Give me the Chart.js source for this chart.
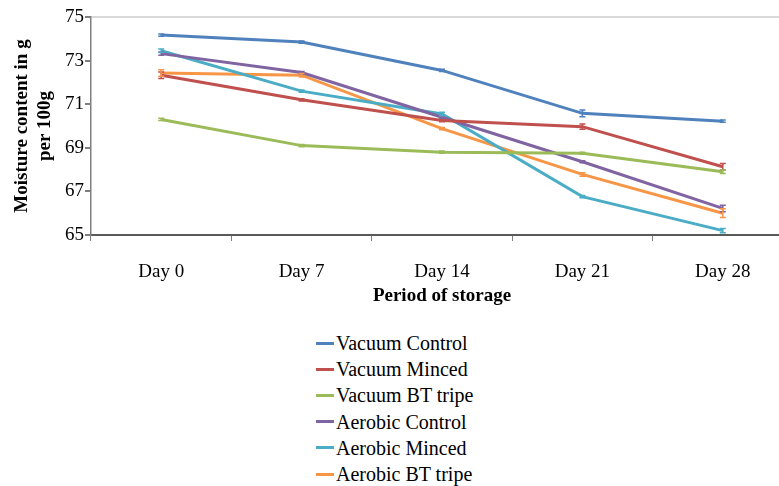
<!DOCTYPE html>
<html>
<head>
<meta charset="utf-8">
<script src="https://cdn.jsdelivr.net/npm/chart.js@4.4.1/dist/chart.umd.min.js"></script>
<style>
  html, body { margin: 0; padding: 0; background: #fff; overflow: hidden; width: 779px; height: 486px; }
  #wrap { position: absolute; left: 0; top: 0; width: 793px; height: 320px; }
  #legend { position: absolute; left: 316px; top: 330px; font-family: "Liberation Serif", "DejaVu Serif", serif; font-size: 20px; color: #000; }
  #legend .item { height: 26.2px; line-height: 26.2px; display: flex; align-items: center; white-space: nowrap; }
  #legend .sw { width: 18px; height: 3px; margin-right: 2px; }
</style>
</head>
<body>
<div id="wrap"><canvas id="chart" width="793" height="320"></canvas></div>
<div id="legend"></div>
<script>
// Storage days
const categories = ["Day 0", "Day 7", "Day 14", "Day 21", "Day 28"];

// Moisture content (g per 100 g) by treatment
const vacuumControl   = [74.17, 73.85, 72.55, 70.58, 70.22];
const vacuumMinced    = [72.33, 71.20, 70.25, 69.97, 68.13];
const vacuumBTtripe   = [70.30, 69.10, 68.80, 68.75, 67.90];
const aerobicControl  = [73.32, 72.45, 70.40, 68.36, 66.22];
const aerobicMinced   = [73.45, 71.60, 70.55, 66.76, 65.20];
const aerobicBTtripe  = [72.43, 72.33, 69.88, 67.78, 66.00];

// Standard errors
const vacuumControlErr  = [0.05, 0.05, 0.05, 0.15, 0.05];
const vacuumMincedErr   = [0.15, 0.05, 0.05, 0.12, 0.15];
const vacuumBTtripeErr  = [0.05, 0.05, 0.05, 0.05, 0.08];
const aerobicControlErr = [0.08, 0.05, 0.05, 0.05, 0.15];
const aerobicMincedErr  = [0.08, 0.05, 0.08, 0.05, 0.10];
const aerobicBTtripeErr = [0.15, 0.08, 0.05, 0.08, 0.20];

// Axis range
const yMin = 65, yMax = 75, yStep = 2;

const seriesNames = ["Vacuum Control", "Vacuum Minced", "Vacuum BT tripe", "Aerobic Control", "Aerobic Minced", "Aerobic BT tripe"];
const seriesValues = [vacuumControl, vacuumMinced, vacuumBTtripe, aerobicControl, aerobicMinced, aerobicBTtripe];
const seriesErrors = [vacuumControlErr, vacuumMincedErr, vacuumBTtripeErr, aerobicControlErr, aerobicMincedErr, aerobicBTtripeErr];
const seriesColors = ["#4F81BD", "#C0504D", "#9BBB59", "#8064A2", "#4BACC6", "#F79646"];

const serif = '"Liberation Serif", "DejaVu Serif", serif';

const datasets = seriesNames.map((name, i) => ({
  label: name,
  data: seriesValues[i],
  errors: seriesErrors[i],
  borderColor: seriesColors[i],
  backgroundColor: seriesColors[i],
  borderWidth: 3,
  pointRadius: 0,
  pointHoverRadius: 0,
  tension: 0,
  fill: false
}));

// Small vertical error bars with caps
const errorBars = {
  id: 'errorBars',
  afterDatasetsDraw(chart) {
    const ctx = chart.ctx;
    const y = chart.scales.y;
    chart.data.datasets.forEach((ds, di) => {
      const meta = chart.getDatasetMeta(di);
      ctx.save();
      ctx.strokeStyle = ds.borderColor;
      ctx.lineWidth = 1.5;
      meta.data.forEach((pt, j) => {
        const e = ds.errors[j];
        const v = ds.data[j];
        const y1 = y.getPixelForValue(v - e);
        const y2 = y.getPixelForValue(v + e);
        ctx.beginPath();
        ctx.moveTo(pt.x, y1); ctx.lineTo(pt.x, y2);
        ctx.moveTo(pt.x - 3, y1); ctx.lineTo(pt.x + 3, y1);
        ctx.moveTo(pt.x - 3, y2); ctx.lineTo(pt.x + 3, y2);
        ctx.stroke();
      });
      ctx.restore();
    });
  }
};

const chart = new Chart(document.getElementById('chart'), {
  type: 'line',
  data: { labels: categories, datasets },
  plugins: [errorBars],
  options: {
    responsive: false,
    devicePixelRatio: 1,
    animation: false,
    layout: { padding: { top: 17, right: 0, bottom: 0, left: 0 } },
    plugins: { legend: { display: false }, tooltip: { enabled: false } },
    scales: {
      x: {
        type: 'category',
        offset: true,
        afterFit(scale) { scale.height = 85; },
        grid: { offset: true, drawOnChartArea: false, color: '#7f7f7f', tickLength: 6, tickColor: '#7f7f7f' },
        border: { color: '#595959', width: 2 },
        ticks: { color: '#000', font: { family: serif, size: 19 }, padding: 20, maxRotation: 0 },
        title: { display: true, text: 'Period of storage', color: '#000', font: { family: serif, size: 19, weight: 'bold' }, padding: { top: 0, bottom: 13 } }
      },
      y: {
        min: yMin, max: yMax,
        afterFit(scale) { scale.width = 91; },
        grid: {
          color: (c) => (c.tick && c.tick.value === yMax ? '#d9d9d9' : 'rgba(0,0,0,0)'),
          lineWidth: 2,
          tickLength: 6,
          tickColor: '#7f7f7f'
        },
        border: { color: '#7f7f7f', width: 1.5 },
        ticks: { stepSize: yStep, color: '#000', font: { family: serif, size: 19 }, padding: 1 },
        title: { display: true, text: ['Moisture content in g', 'per 100g'], color: '#000', font: { family: serif, size: 19, weight: 'bold', lineHeight: 1.2 }, padding: { top: 11, bottom: 0 } }
      }
    }
  }
});

// Legend listing the series one per row
const legend = document.getElementById('legend');
chart.data.datasets.forEach(ds => {
  const row = document.createElement('div');
  row.className = 'item';
  const sw = document.createElement('span');
  sw.className = 'sw';
  sw.style.background = ds.borderColor;
  const txt = document.createElement('span');
  txt.textContent = ds.label;
  row.appendChild(sw);
  row.appendChild(txt);
  legend.appendChild(row);
});
</script>
</body>
</html>
